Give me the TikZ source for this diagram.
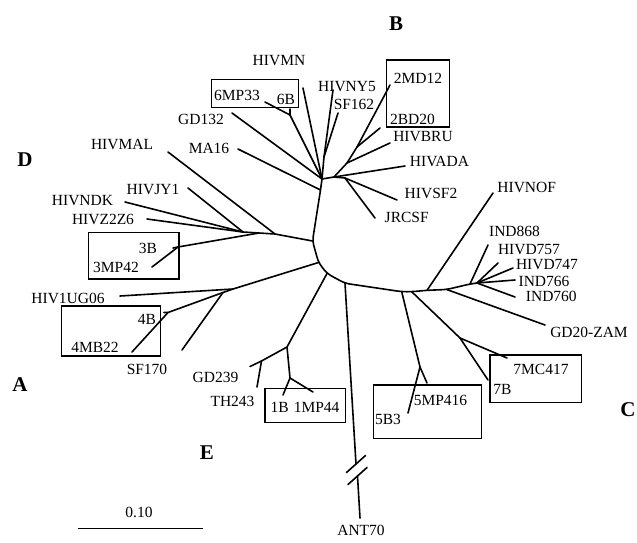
\documentclass[tikz,border=0pt]{standalone}
\usepackage{fontspec}
\setmainfont{Liberation Serif}
\begin{document}
\begin{tikzpicture}[x=1pt,y=-1pt,
  br/.style={line width=1.6pt, line cap=round, line join=round},
  lab/.style={inner sep=0pt, font=\fontsize{15.5}{17}\selectfont},
  grp/.style={inner sep=0pt, font=\fontsize{21}{23}\selectfont\bfseries},
  bx/.style={draw, line width=1.3pt, inner sep=0pt}]
\useasboundingbox (0,0) rectangle (637,542);

% ---------- internal nodes ----------
\coordinate (Bhub) at (322,179);
\coordinate (Bma) at (320.5,190);
\coordinate (Droot) at (312.5,241);
\coordinate (Aj) at (318.5,262.5);
\coordinate (Ej) at (327,273.5);
\coordinate (Cj) at (345,283.3);
\coordinate (C5j) at (401.7,291.7);
\coordinate (C7j) at (411.7,291.7);
\coordinate (Cnof) at (427,290.3);
\coordinate (Cg) at (446.7,289.5);
\coordinate (C3) at (470,284);
\coordinate (C4) at (477,283);
% B
\coordinate (B6) at (290,115);
\coordinate (Bny) at (324,157);
\coordinate (R1) at (334,177);
\coordinate (R2) at (347,163);
\coordinate (R3) at (357,147);
\coordinate (R4) at (345,178);
% D
\coordinate (D1) at (275,234);
\coordinate (D2) at (259,233);
\coordinate (D3) at (243,232);
\coordinate (D3B) at (178,247);
% A
\coordinate (Ahub) at (233,289);
\coordinate (A2) at (223,292.5);
\coordinate (A4B) at (168,312.5);
% E
\coordinate (E1) at (287,347);
\coordinate (E2) at (261.5,361);
\coordinate (E3) at (290,378);
% C
\coordinate (C5) at (420,367);
\coordinate (C7) at (460,338);
% ANT70
\coordinate (antA) at (356,464);
\coordinate (antB) at (357.5,476);

% ---------- leaf ends ----------
\coordinate (eGD132) at (232,113);
\coordinate (eMA16) at (238,149);
\coordinate (e6MP33) at (265,102);
\coordinate (e6B) at (290,109);
\coordinate (eHIVMN) at (303,88);
\coordinate (eNY5) at (333,90);
\coordinate (eSF162) at (338,113);
\coordinate (eADA) at (405,166);
\coordinate (eBRU) at (390,143);
\coordinate (e2MD12) at (390,85);
\coordinate (e2BD20) at (380,128);
\coordinate (eSF2) at (397,200);
\coordinate (eJRCSF) at (375,218);
\coordinate (eMAL) at (168,152);
\coordinate (e3B) at (173,248);
\coordinate (e3MP42) at (152,267);
\coordinate (eJY1) at (188,188);
\coordinate (eNDK) at (125,202);
\coordinate (eZ2Z6) at (147,219);
\coordinate (eUG06) at (120,296);
\coordinate (e4B) at (164,312.5);
\coordinate (e4MB22) at (132,352);
\coordinate (eSF170) at (182,350);
\coordinate (eGD239) at (250,366.5);
\coordinate (eTH243) at (257,387);
\coordinate (e1B) at (283,395);
\coordinate (e1MP44) at (313,392);
\coordinate (eANT) at (360,518);
\coordinate (eNOF) at (493,193);
\coordinate (eZAM) at (545,325);
\coordinate (e868) at (488,245);
\coordinate (e757) at (498,263);
\coordinate (e747) at (513,268);
\coordinate (e766) at (515,280);
\coordinate (e760) at (515,297);
\coordinate (e5MP) at (427,383);
\coordinate (e5B3) at (408,413);
\coordinate (e7MC) at (507,358);
\coordinate (e7B) at (488,380);

% ---------- branches ----------
\draw[br, rounded corners=5pt] (Bhub) -- (Bma) -- (Droot) -- (Aj) -- (Ej) -- (Cj)
  -- (C5j) -- (C7j) -- (Cnof) -- (Cg) -- (C3) -- (C4);
% B cluster
\draw[br] (Bhub) -- (eGD132);
\draw[br] (Bma) -- (eMA16);
\draw[br] (Bhub) -- (B6) -- (e6MP33);
\draw[br] (B6) -- (e6B);
\draw[br] (Bhub) -- (eHIVMN);
\draw[br] (Bhub) -- (Bny) -- (eNY5);
\draw[br] (Bny) -- (eSF162);
\draw[br] (Bhub) -- (R1) -- (R4);
\draw[br] (R1) -- (eADA);
\draw[br] (R1) -- (R2) -- (eBRU);
\draw[br] (R2) -- (R3) -- (e2MD12);
\draw[br] (R3) -- (e2BD20);
\draw[br] (R4) -- (eSF2);
\draw[br] (R4) -- (eJRCSF);
% D cluster
\draw[br] (Droot) -- (D1) -- (D2) -- (D3);
\draw[br] (D1) -- (eMAL);
\draw[br] (D2) -- (D3B) -- (e3B);
\draw[br] (D3B) -- (e3MP42);
\draw[br] (D3) -- (eJY1);
\draw[br] (D3) -- (eNDK);
\draw[br] (D3) -- (eZ2Z6);
% A cluster
\draw[br] (Aj) -- (Ahub) -- (eUG06);
\draw[br] (Ahub) -- (A2) -- (A4B) -- (e4B);
\draw[br] (A4B) -- (e4MB22);
\draw[br] (A2) -- (eSF170);
% E cluster
\draw[br] (Ej) -- (E1) -- (E2) -- (eGD239);
\draw[br] (E2) -- (eTH243);
\draw[br] (E1) -- (E3) -- (e1B);
\draw[br] (E3) -- (e1MP44);
% ANT70
\draw[br] (Cj) -- (antA);
\draw[br] (antB) -- (eANT);
\draw[br] ([shift={(-9.5,8.5)}]antA) -- ([shift={(9.5,-8.5)}]antA);
\draw[br] ([shift={(-9.5,8.5)}]antB) -- ([shift={(9.5,-8.5)}]antB);
% C cluster
\draw[br] (Cnof) -- (eNOF);
\draw[br] (Cg) -- (eZAM);
\draw[br] (C3) -- (e868);
\draw[br] (C4) -- (e757);
\draw[br] (C4) -- (e747);
\draw[br] (C4) -- (e766);
\draw[br] (C4) -- (e760);
\draw[br] (C5j) -- (C5) -- (e5MP);
\draw[br] (C5) -- (e5B3);
\draw[br] (C7j) -- (C7) -- (e7MC);
\draw[br] (C7) -- (e7B);

% ---------- boxes ----------
\node[bx, minimum width=86.6pt, minimum height=28pt] (box6) at (255,93.3) {};
\node[bx, minimum width=63pt, minimum height=67pt] (box2) at (418,93.5) {};
\node[bx, minimum width=90.7pt, minimum height=46.7pt] (box3) at (133.7,255.7) {};
\node[bx, minimum width=99pt, minimum height=50pt] (box4) at (111.2,331) {};
\node[bx, minimum width=80.7pt, minimum height=34pt] (box1) at (305.4,405.4) {};
\node[bx, minimum width=108.4pt, minimum height=53.3pt] (box5) at (427.5,411.7) {};
\node[bx, minimum width=91.7pt, minimum height=47.7pt] (box7) at (535.8,378.8) {};

% ---------- labels ----------
\node[lab] (tHIVMN) at (279,61) {HIVMN};
\node[lab] (tNY5) at (347,86.7) {HIVNY5};
\node[lab] (tSF162) at (354,104) {SF162};
\node[lab] (t6MP33) at (237,95) {6MP33};
\node[lab] (t6B) at (286,99) {6B};
\node[lab] (tGD132) at (201,119) {GD132};
\node[lab] (tMA16) at (209,148) {MA16};
\node[lab] (t2MD12) at (418,78) {2MD12};
\node[lab] (t2BD20) at (412.5,119) {2BD20};
\node[lab] (tBRU) at (423,137) {HIVBRU};
\node[lab] (tADA) at (439.5,161) {HIVADA};
\node[lab] (tSF2) at (431,193) {HIVSF2};
\node[lab] (tJRCSF) at (406.7,217.5) {JRCSF};
\node[lab] (tMAL) at (122,144) {HIVMAL};
\node[lab] (tJY1) at (153,189) {HIVJY1};
\node[lab] (tNDK) at (82.5,201) {HIVNDK};
\node[lab] (tZ2Z6) at (103,219) {HIVZ2Z6};
\node[lab] (t3B) at (148,248) {3B};
\node[lab] (t3MP42) at (116,267.5) {3MP42};
\node[lab] (tUG06) at (68,298) {HIV1UG06};
\node[lab] (t4B) at (147,319) {4B};
\node[lab] (t4MB22) at (95,347.5) {4MB22};
\node[lab] (tSF170) at (147,369) {SF170};
\node[lab] (tGD239) at (215.5,377.5) {GD239};
\node[lab] (tTH243) at (232.5,401) {TH243};
\node[lab] (t1B) at (305,407.5) {1B\,\,1MP44};
\node[lab] (tNOF) at (526.7,187.5) {HIVNOF};
\node[lab] (t868) at (514.5,231.7) {IND868};
\node[lab] (t757) at (529,249.5) {HIVD757};
\node[lab] (t747) at (547,265) {HIVD747};
\node[lab] (t766) at (544,281) {IND766};
\node[lab] (t760) at (551.3,296.7) {IND760};
\node[lab] (tZAM) at (589,332) {GD20-ZAM};
\node[lab] (t7MC) at (541,369) {7MC417};
\node[lab] (t7B) at (502.5,389) {7B};
\node[lab] (t5MP) at (440.5,400) {5MP416};
\node[lab] (t5B3) at (388,419) {5B3};
\node[lab] (tANT) at (361,530) {ANT70};

% group letters
\node[grp] (gB) at (396,24) {B};
\node[grp] (gD) at (25,160) {D};
\node[grp] (gA) at (20,385) {A};
\node[grp] (gC) at (628,410) {C};
\node[grp] (gE) at (207,453) {E};

% scale bar
\coordinate (sL) at (78.3,528.3);
\coordinate (sR) at (203.3,528.3);
\draw[line width=1.2pt] (sL) -- (sR);
\node[lab] (tscale) at (139,512.5) {0.10};
\end{tikzpicture}
\end{document}
